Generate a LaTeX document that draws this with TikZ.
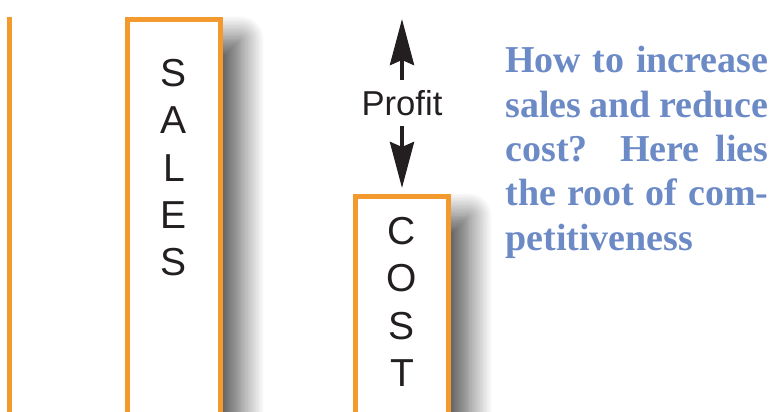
\documentclass[tikz,border=0pt]{standalone}
\usepackage{fontspec}
\setmainfont{Liberation Serif}
\setsansfont{Liberation Sans}
\usepackage{tikz}
\usetikzlibrary{positioning, arrows.meta, shadows.blur}

\definecolor{barorange}{RGB}{242,154,46}
\definecolor{noteblue}{RGB}{108,138,198}
\definecolor{letterblack}{RGB}{35,31,32}

\begin{document}
\begin{tikzpicture}[x=0.5pt, y=-0.5pt]
      % Define styles for nodes
      \tikzset{
        barbox/.style={rectangle, draw=barorange, line width=2.5pt, fill=white,
          minimum width=46.5pt, inner sep=0pt, anchor=north,
          blur shadow={shadow xshift=10pt, shadow yshift=-10pt,
            shadow blur radius=12pt, shadow blur steps=18, shadow opacity=70}},
        letters/.style={font=\sffamily\fontsize{19.5}{23.6}\selectfont,
          text=letterblack, align=center, inner sep=0pt},
        profitarrow/.style={line width=2pt, draw=letterblack,
          -{Stealth[length=23pt, width=12pt, inset=2.5pt]}},
        annotation/.style={font=\bfseries\fontsize{19}{22.2}\selectfont,
          text=noteblue, align=left, inner sep=0pt, anchor=north west}
      }
      \useasboundingbox (0,0) rectangle (773,412);

      % Edge of the previous bar
      \draw[barorange, line width=2.5pt] (9.5,17) -- (9.5,420);

      % The two bars
      \node[barbox, minimum height=197.25pt] (sales) at (174,17) {};
      \node[barbox, minimum height=108.75pt] (cost) at (402,194) {};

      \node[letters, below=21pt of sales.north] (salesletters) {S\\A\\L\\E\\S};
      \node[letters, below=11.5pt of cost.north] (costletters) {C\\O\\S\\T};

      % Profit between the bars
      \node[font=\sffamily\fontsize{17.3}{20}\selectfont, text=letterblack,
        inner sep=5pt] (profit) at (402,103) {Profit};
      \coordinate (profittop) at (402,19);
      \draw[profitarrow] (profit.north) -- (profittop);
      \draw[profitarrow, shorten >=3pt] (profit.south) -- (cost.north);

      % Question beside the bars
      \node[annotation] (question) at (505,46) {%
        \makebox[131.5pt][s]{How to increase}\\
        \makebox[131.5pt][s]{sales and reduce}\\
        \makebox[131.5pt][s]{cost? Here lies}\\
        \makebox[131.5pt][s]{the root of com-}\\
        petitiveness};
\end{tikzpicture}
\end{document}
